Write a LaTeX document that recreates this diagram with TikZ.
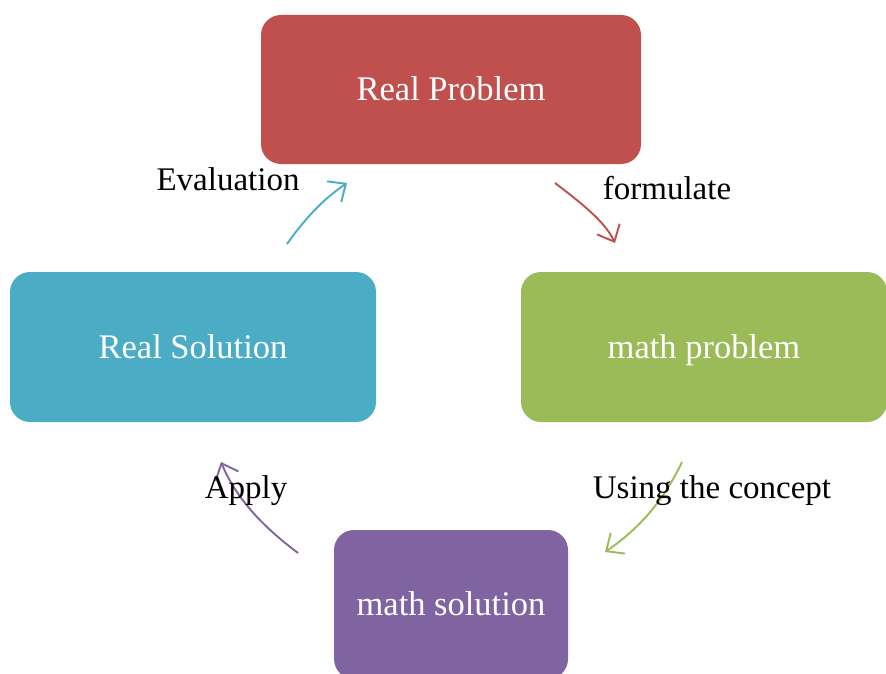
\documentclass[tikz,border=0pt]{standalone}
\usepackage{fontspec}
\setmainfont{Liberation Serif}
\usetikzlibrary{arrows.meta}

\definecolor{probred}{RGB}{192,80,77}
\definecolor{mathgreen}{RGB}{155,187,89}
\definecolor{solblue}{RGB}{75,172,198}
\definecolor{solpurple}{RGB}{128,100,162}

\begin{document}
\begin{tikzpicture}[x=1pt,y=1pt,yscale=-1,xscale=1,
  stage/.style={rounded corners=20pt,text=white,font=\fontsize{34.5}{38}\selectfont,minimum width=366pt,minimum height=150pt,inner sep=0pt,text height=22pt,text depth=0pt},
  cycarrow/.style={line width=1.9pt,-{Straight Barb[length=14pt,width=25pt,line width=1.9pt]}},
  steplabel/.style={font=\fontsize{33}{36}\selectfont,anchor=base}]
%set diagram area 886 x 674
\clip (0,0) rectangle (886,674);

% Boxes
\node [stage,fill=probred,minimum width=380pt,minimum height=149pt] (realprob) at (451,89.5) {Real Problem};
\node [stage,fill=mathgreen] (mathprob) at (704,347) {math problem};
\node [stage,fill=solblue] (realsol) at (193,347) {Real Solution};
\node [stage,fill=solpurple,minimum width=234pt,minimum height=149pt] (mathsol) at (451,604.5) {math solution};

% Arrow ends
\coordinate (formA) at (555,183);
\coordinate (formB) at (615,243);
\coordinate (useA) at (682,462);
\coordinate (useB) at (605,552);
\coordinate (applyA) at (298,553);
\coordinate (applyB) at (221,462);
\coordinate (evalA) at (287,244);
\coordinate (evalB) at (347,183);

% Arrows
\draw [cycarrow,color=probred] (formA) .. controls (588,208) and (606,224) .. (formB);
\draw [cycarrow,color=mathgreen] (useA) .. controls (664,500) and (640,528) .. (useB);
\draw [cycarrow,color=solpurple] (applyA) .. controls (262,526) and (236,498) .. (applyB);
\draw [cycarrow,color=solblue] (evalA) .. controls (304,220) and (322,200) .. (evalB);

% Text Node
\node [steplabel] (formlbl) at (667,199) {formulate};
% Text Node
\node [steplabel] (uselbl) at (712,498) {Using the concept};
% Text Node
\node [steplabel] (applylbl) at (246,498) {Apply};
% Text Node
\node [steplabel] (evallbl) at (228,190) {Evaluation};
\end{tikzpicture}
\end{document}
